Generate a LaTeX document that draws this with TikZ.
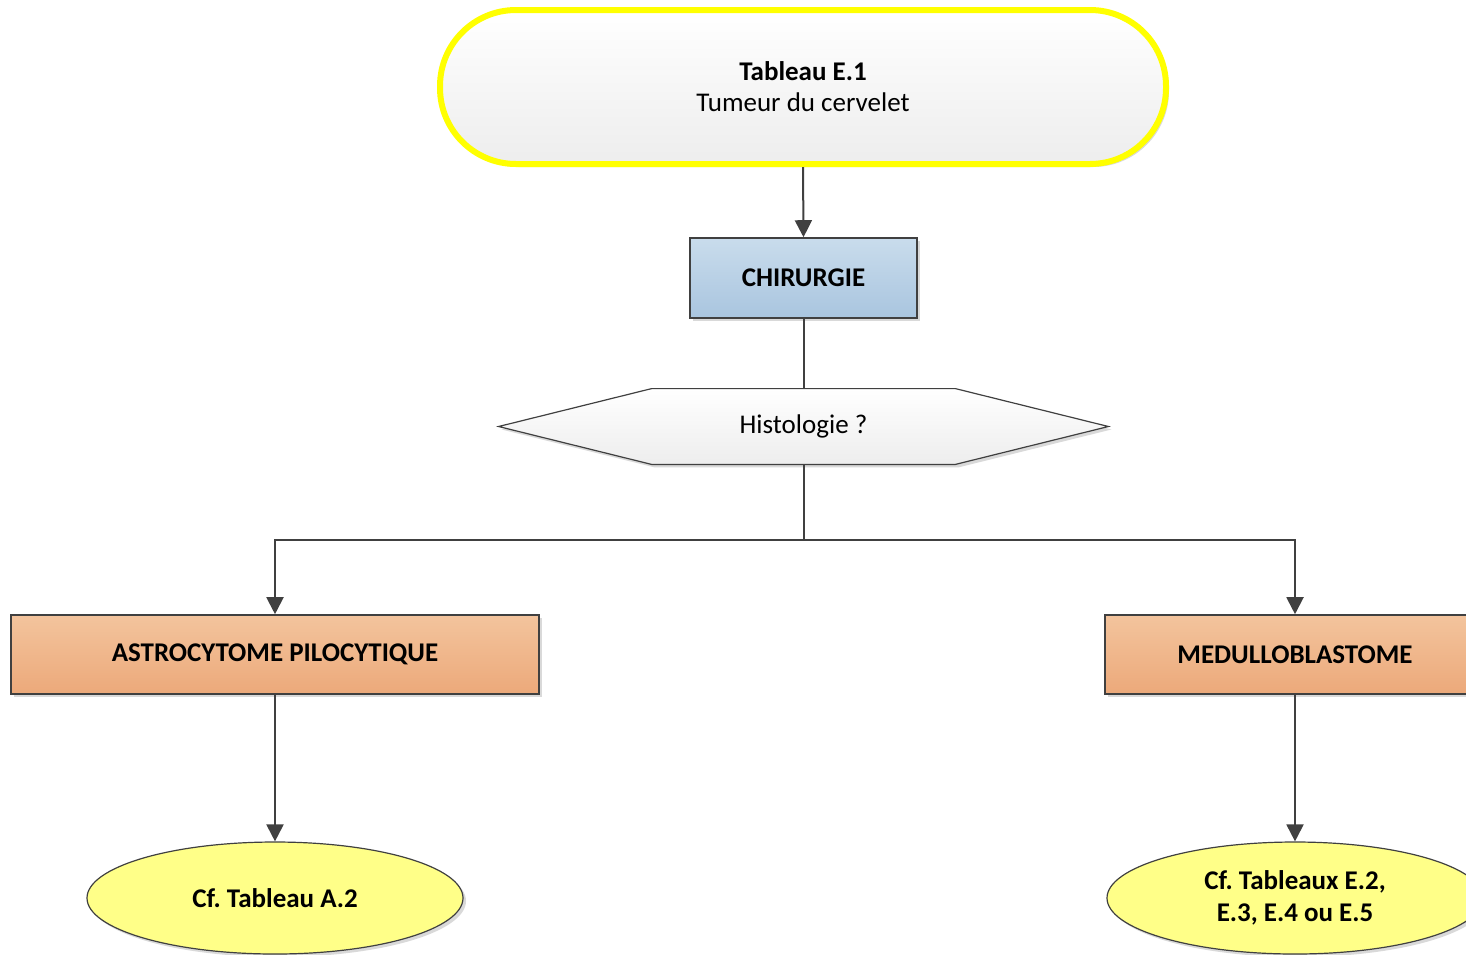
\documentclass[tikz,border=0pt]{standalone}
\usepackage{fontspec}
\setmainfont{Carlito}
\frenchspacing
\usetikzlibrary{shapes.geometric,shadows,arrows.meta}
\definecolor{edgec}{HTML}{404040}
\definecolor{termtop}{HTML}{FFFFFF}
\definecolor{termbot}{HTML}{EDEDED}
\definecolor{bluetop}{HTML}{C9DCEC}
\definecolor{bluebot}{HTML}{A9C5DF}
\definecolor{orgtop}{HTML}{F3C49D}
\definecolor{orgbot}{HTML}{ECA97A}
\definecolor{ellfill}{HTML}{FFFF88}
\definecolor{termborder}{HTML}{FFFF00}
\tikzset{
  txt/.style={font=\fontsize{13.5pt}{15.5pt}\selectfont, align=center, text=black},
  shad/.style={drop shadow={shadow xshift=1.5pt, shadow yshift=-1.5pt, opacity=0.25, fill=black!60}},
  term/.style={txt, shad, draw=termborder, line width=3pt, rounded corners=38pt,
    top color=termtop, bottom color=termbot, minimum width=363pt, minimum height=77pt},
  procbox/.style={txt, shad, draw=edgec, line width=0.8pt, font=\fontsize{13.5pt}{15.5pt}\selectfont\bfseries},
  bluebox/.style={procbox, top color=bluetop, bottom color=bluebot},
  orgbox/.style={procbox, top color=orgtop, bottom color=orgbot},
  endell/.style={txt, shad, ellipse, draw=edgec, line width=0.6pt, fill=ellfill,
    minimum width=188pt, minimum height=56pt, font=\fontsize{13.5pt}{16pt}\selectfont\bfseries},
  conn/.style={draw=edgec, line width=1pt},
  arr/.style={conn, -{Triangle[length=8.5pt,width=8.5pt]}},
}
\begin{document}
\begin{tikzpicture}[x=0.5pt,y=-0.5pt]
\useasboundingbox (0,0) rectangle (1466,954);
\clip (0,0) rectangle (1466,954);
\node[term] (t) at (803,87) {\textbf{Tableau E.1}\\Tumeur du cervelet};
\node[bluebox, minimum width=113.5pt, minimum height=40pt] (c) at (803.5,278) {CHIRURGIE};
\node[txt, minimum width=304.5pt, minimum height=37.5pt, inner sep=0pt] (h) at (803.5,426.5) {};
\path[shad, draw=edgec, line width=0.6pt, top color=white, bottom color=termbot]
  (h.west) -- ([xshift=76.5pt]h.north west) -- ([xshift=-76.5pt]h.north east) -- (h.east)
  -- ([xshift=-76.5pt]h.south east) -- ([xshift=76.5pt]h.south west) -- cycle;
\node[txt] (hl) at (h) {Histologie ?};
\node[orgbox, minimum width=264pt, minimum height=39.5pt] (a) at (275,654.5) {ASTROCYTOME PILOCYTIQUE};
\node[orgbox, minimum width=190pt, minimum height=39.5pt] (m) at (1295,654.5) {MEDULLOBLASTOME};
\node[endell] (ea) at (275,898) {Cf. Tableau A.2};
\node[endell] (em) at (1295,898) {Cf. Tableaux E.2,\\E.3, E.4 ou E.5};
\coordinate (split) at (803.5,540);
\draw[arr] (t.south) -- (c.north);
\draw[conn] (c.south) -- (h.north);
\draw[conn] (h.south) -- (split);
\draw[arr] (split) -| (a.north);
\draw[arr] (split) -| (m.north);
\draw[arr] (a.south) -- (ea.north);
\draw[arr] (m.south) -- (em.north);
\end{tikzpicture}
\end{document}
